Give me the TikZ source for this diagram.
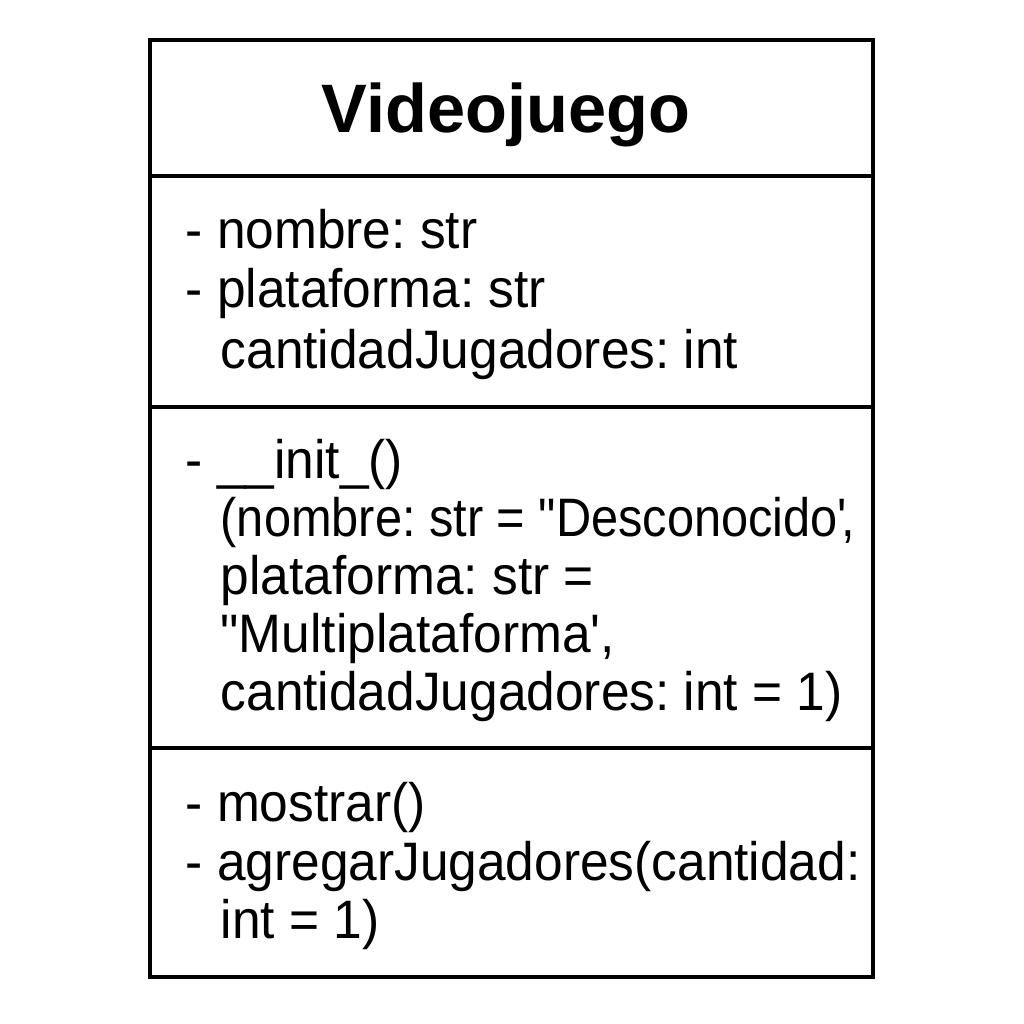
\documentclass[tikz,border=0pt]{standalone}
\usepackage{fontspec}
\setmainfont{Liberation Sans}[Ligatures=TeXOff]
\newfontfamily\memberfont{Liberation Sans}[Ligatures=TeXOff, FakeStretch=0.95]
\newfontfamily\narrowfont{Liberation Sans}[Ligatures=TeXOff, FakeStretch=0.9]
\frenchspacing
\usetikzlibrary{positioning}

\begin{document}
\begin{tikzpicture}[
      x=0.01cm, y=-0.01cm,
      frame/.style={
        line width=1.15pt
      },
      classname/.style={
        anchor=base,
        inner sep=0pt,
        font=\fontsize{19.5}{23}\selectfont\bfseries
      },
      member/.style={
        anchor=base west,
        inner sep=0pt,
        font=\memberfont\fontsize{15.4}{17}\selectfont
      },
      narrow/.style={
        member,
        font=\narrowfont\fontsize{15.4}{17}\selectfont
      }
    ]
    \useasboundingbox (0,0) rectangle (1024,1024);
    %% Frame
    \draw[frame] (150,40) rectangle (873,977);
    \draw[frame] (150,176) -- (873,176);
    \draw[frame] (150,407) -- (873,407);
    \draw[frame] (150,748) -- (873,748);
    %% Name
    \node[classname] (cls) at (506,133) {Videojuego};
    %% Attributes
    \node[member] (a-1) at (185,248) {- nombre: str};
    \node[member] (a-2) at (185,307) {- plataforma: str};
    \node[member] (a-3) at (220,368) {cantidadJugadores: int};
    %% Constructor
    \node[member] (c-1) at (185,478) {- \_\_init\_()};
    \node[narrow] (c-2) at (220,536) {(nombre: str = "Desconocido'\kern-0.1em,};
    \node[member] (c-3) at (220,594) {plataforma: str =};
    \node[member] (c-4) at (220,652) {"Multiplataforma',};
    \node[member] (c-5) at (220,710) {cantidadJugadores: int = 1)};
    %% Methods
    \node[member] (m-1) at (185,821) {- mostrar()};
    \node[member] (m-2) at (185,880) {- agregarJugadores(cantidad:};
    \node[member] (m-3) at (220,938) {int = 1)};
  \end{tikzpicture}
\end{document}
